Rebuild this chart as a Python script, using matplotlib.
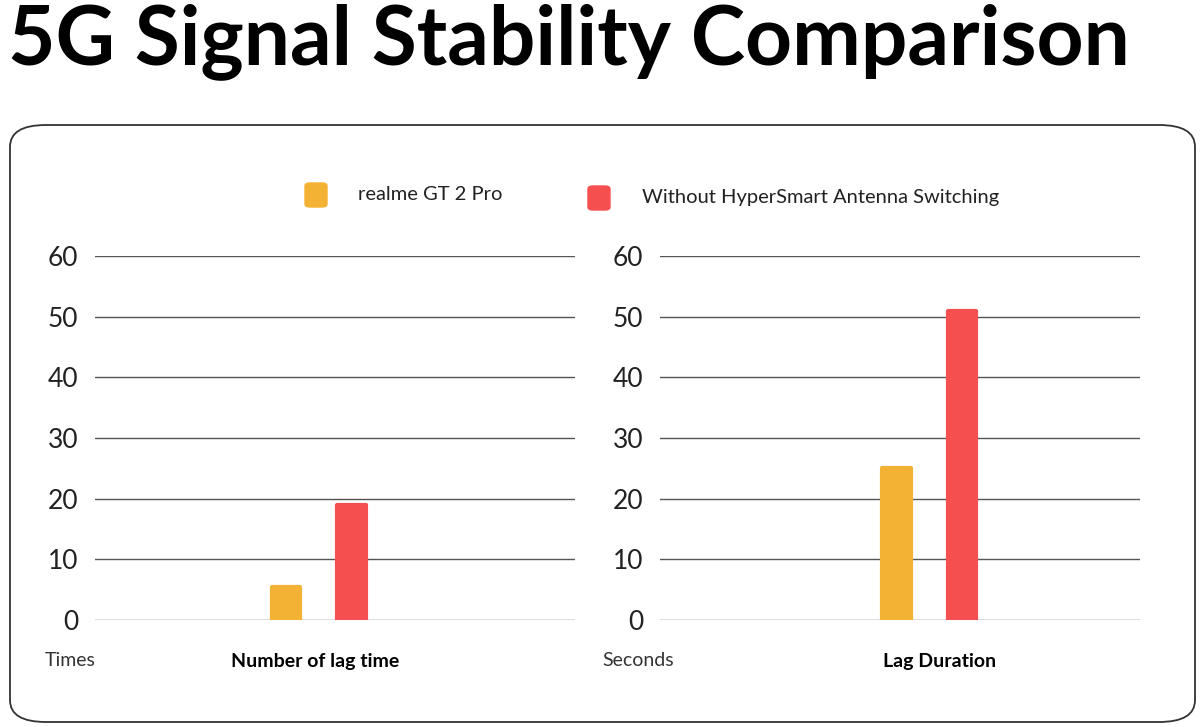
import matplotlib
matplotlib.use("Agg")
import matplotlib.pyplot as plt
from matplotlib.patches import FancyBboxPatch

plt.rcParams["font.family"] = "Lato"

title = "5G Signal Stability Comparison"
series_names = ["realme GT 2 Pro", "Without HyperSmart Antenna Switching"]
colors = ["#F3B233", "#F5504F"]
categories = ["Number of lag time", "Lag Duration"]
units = ["Times", "Seconds"]
lag_times = [5.5, 19]
lag_duration = [25, 51]
yticks = [0, 10, 20, 30, 40, 50, 60]

fig = plt.figure(figsize=(12, 7.27), dpi=100)
W, H = 1200, 727
def fx(x): return x / W
def fy(y): return 1 - y / H

fig.text(fx(8), fy(42), title, fontsize=59, fontweight="bold", va="center", ha="left")
fig.patches.append(FancyBboxPatch((fx(10), fy(722)), fx(1185), 597 / H,
                                  boxstyle="round,pad=0,rounding_size=0.03",
                                  transform=fig.transFigure, fill=False,
                                  edgecolor="#333333", linewidth=1.3))

# legend
for (x0, tx, ty), name, c in zip([(305, 358, 195), (588, 642, 198)], series_names, colors):
    fig.patches.append(FancyBboxPatch((fx(x0), fy(ty + 12)), fx(22), 24 / H,
                                      boxstyle="round,pad=0,rounding_size=0.004",
                                      transform=fig.transFigure, color=c))
    fig.text(fx(tx), fy(ty), name, fontsize=14.5, va="center", ha="left", color="#222222")

panels = [(95, lag_times, [0.398, 0.535], categories[0], units[0], 315, 70),
          (660, lag_duration, [0.492, 0.629], categories[1], units[1], 940, 638)]
for left, vals, xs, cat, unit, catx, unitx in panels:
    ax = fig.add_axes([fx(left), fy(620), fx(480), (620 - 256) / H])
    ax.set_xlim(0, 1)
    ax.set_ylim(0, 60)
    ax.set_yticks(yticks)
    ax.set_xticks([])
    for s in ax.spines.values():
        s.set_visible(False)
    ax.grid(axis="y", color="#555555", linewidth=1)
    ax.set_axisbelow(True)
    ax.tick_params(axis="y", length=0, labelsize=19, pad=12, labelcolor="#222222")
    ax.patch.set_alpha(0)
    ax.bar(xs, vals, width=0.06, color=colors, edgecolor=colors,
           linewidth=3, joinstyle="round", zorder=3)
    fig.text(fx(catx), fy(661), cat, fontsize=14, fontweight="bold", ha="center", va="center")
    fig.text(fx(unitx), fy(661), unit, fontsize=14, ha="center", va="center", color="#333333")

fig.savefig("out.png", dpi=100)
